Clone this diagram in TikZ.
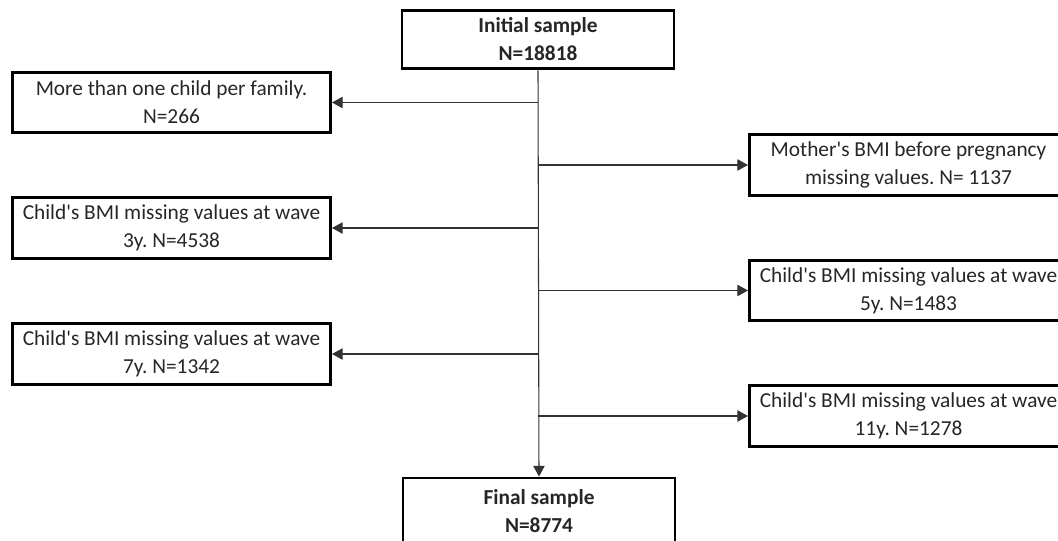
\documentclass[tikz,border=0pt]{standalone}
\usepackage{fontspec}
\setmainfont{Carlito}
\usetikzlibrary{arrows.meta, positioning}
\frenchspacing

\begin{document}
\begin{tikzpicture}[x=0.75pt, y=-0.75pt,
    box/.style={draw=black, line width=2.2pt, minimum width=238.5pt, minimum height=45.5pt,
        inner sep=0pt, align=center, text=black!85, font=\fontsize{16}{21}\selectfont},
    mainbox/.style={box, minimum width=204pt, minimum height=44pt, font=\bfseries\fontsize{16}{21}\selectfont},
    flow/.style={line width=0.8pt, black!80, -{Triangle[length=8pt,width=8.5pt]}}]
\useasboundingbox (0,0) rectangle (1058,540);
\clip (0,0) rectangle (1058,540);

% Samples
\node[mainbox] (init) at (538,39.5) {Initial sample\\N=18818};
\node[mainbox, minimum height=49.5pt] (final) at (539,511) {Final sample\\N=8774};

% Exclusions, left side
\node[box] (fam) at (171.5,102.5) {More than one child per family.\\N=266};
\node[box] (bmi3) at (171.5,228) {Child\textquotesingle s BMI missing values at wave\\3y. N=4538};
\node[box] (bmi7) at (171.5,354) {Child\textquotesingle s BMI missing values at wave\\7y. N=1342};

% Exclusions, right side
\node[box] (mom) at (908.5,165) {Mother\textquotesingle s BMI before pregnancy\\missing values. N= 1137};
\node[box] (bmi5) at (908.5,290.5) {Child\textquotesingle s BMI missing values at wave\\5y. N=1483};
\node[box] (bmi11) at (908.5,416) {Child\textquotesingle s BMI missing values at wave\\11y. N=1278};

% Main flow
\draw[flow] (init.south) -- (final.north);

% Branches
\foreach \b in {fam, bmi3, bmi7} {
    \draw[flow] (init.south |- \b.east) -- (\b.east);
}
\foreach \b in {mom, bmi5, bmi11} {
    \draw[flow] (init.south |- \b.west) -- (\b.west);
}
\end{tikzpicture}
\end{document}
